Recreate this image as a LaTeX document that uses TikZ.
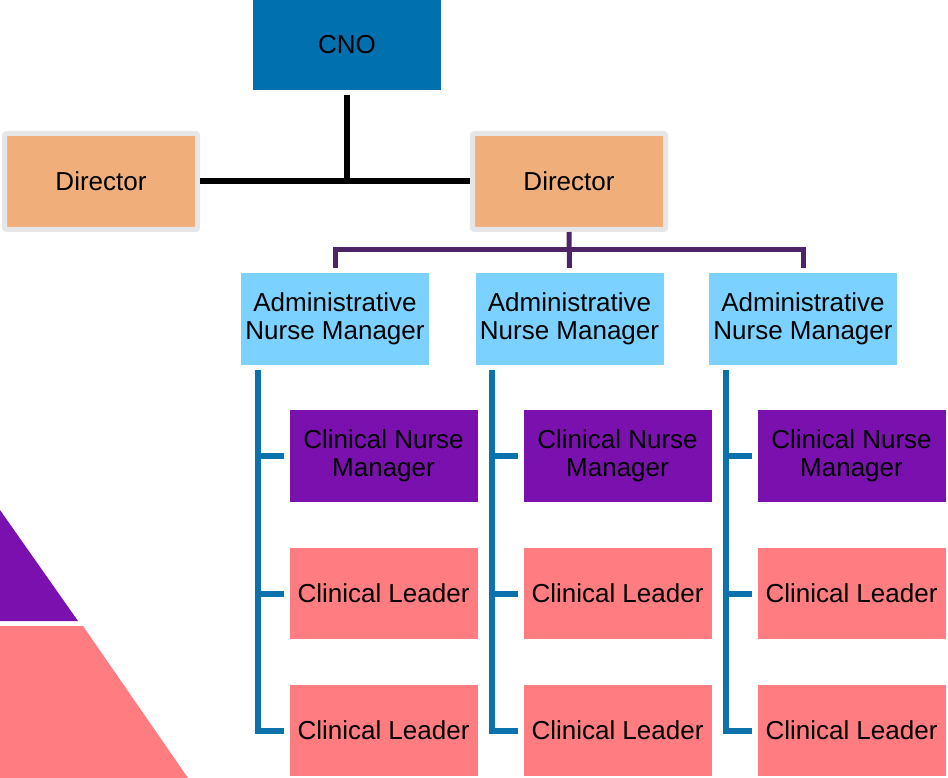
\documentclass[tikz,border=0pt]{standalone}
\usepackage{fontspec}
\setmainfont{Liberation Sans}

\definecolor{cnoblue}{RGB}{0,112,175}
\definecolor{dirpeach}{RGB}{240,174,122}
\definecolor{dirgray}{RGB}{230,230,230}
\definecolor{amnblue}{RGB}{123,209,255}
\definecolor{cnmpurple}{RGB}{122,17,174}
\definecolor{clsalmon}{RGB}{255,124,128}
\definecolor{linkpurple}{RGB}{78,36,104}
\definecolor{linkblue}{RGB}{12,114,174}

\begin{document}
\begin{tikzpicture}[x=1pt, y=-1pt,
		box/.style={rectangle, inner sep=0pt, minimum width=188pt, minimum height=92pt, align=center, text=black, font=\fontsize{26}{28}\selectfont},
		cnobox/.style={box, fill=cnoblue, minimum height=90pt},
		dirbox/.style={box, fill=dirpeach, draw=dirgray, line width=5pt, rounded corners=2pt, minimum width=193pt, minimum height=96pt},
		amnbox/.style={box, fill=amnblue},
		cnmbox/.style={box, fill=cnmpurple},
		clbox/.style={box, fill=clsalmon, minimum height=91pt},
		toplink/.style={line width=6pt, black},
		dirlink/.style={line width=5pt, linkpurple},
		amnlink/.style={line width=6pt, linkblue},
	]

	\useasboundingbox (0,0) rectangle (948,778);

	% Pyramid corner
	\fill[cnmpurple] (0,510) -- (78,621) -- (0,621) -- cycle;
	\fill[clsalmon]  (0,626) -- (83,626) -- (188,778) -- (0,778) -- cycle;

	% Top
	\node[cnobox] (cno)  at (347,45)    {CNO};
	\node[dirbox] (dirL) at (101,181.5) {Director};
	\node[dirbox] (dirR) at (569,181.5) {Director};

	% Administrative nurse managers
	\node[amnbox] (amnA) at (335,319)   {Administrative\\Nurse Manager};
	\node[amnbox] (amnB) at (569.5,319) {Administrative\\Nurse Manager};
	\node[amnbox] (amnC) at (803,319)   {Administrative\\Nurse Manager};

	% Clinical staff
	\node[cnmbox] (cnmA) at (383.5,456)   {Clinical Nurse\\Manager};
	\node[clbox]  (clA1) at (383.5,593.5) {Clinical Leader};
	\node[clbox]  (clA2) at (383.5,730.5) {Clinical Leader};

	\node[cnmbox] (cnmB) at (617.5,456)   {Clinical Nurse\\Manager};
	\node[clbox]  (clB1) at (617.5,593.5) {Clinical Leader};
	\node[clbox]  (clB2) at (617.5,730.5) {Clinical Leader};

	\node[cnmbox] (cnmC) at (851.5,456)   {Clinical Nurse\\Manager};
	\node[clbox]  (clC1) at (851.5,593.5) {Clinical Leader};
	\node[clbox]  (clC2) at (851.5,730.5) {Clinical Leader};

	% CNO to directors
	\draw[toplink] ([yshift=-5pt]cno.south) -- (cno.south |- dirL.east);
	\draw[toplink] (dirL) -- (dirR);

	% Director to managers
	\coordinate (bus) at ([yshift=-18pt]dirR.south);
	\draw[dirlink] ([yshift=5pt]amnA.north) |- (bus) -| ([yshift=5pt]amnC.north);
	\draw[dirlink] (dirR.south) -- ([yshift=5pt]amnB.north);

	% Managers to clinical staff
	\coordinate (spineA) at ([xshift=17pt,yshift=-5pt]amnA.south west);
	\coordinate (spineB) at ([xshift=17pt,yshift=-5pt]amnB.south west);
	\coordinate (spineC) at ([xshift=17pt,yshift=-5pt]amnC.south west);

	\draw[amnlink] (spineA) |- ([xshift=-5pt]clA2.west);
	\draw[amnlink] (spineA |- cnmA.west) -- ([xshift=-5pt]cnmA.west);
	\draw[amnlink] (spineA |- clA1.west) -- ([xshift=-5pt]clA1.west);

	\draw[amnlink] (spineB) |- ([xshift=-5pt]clB2.west);
	\draw[amnlink] (spineB |- cnmB.west) -- ([xshift=-5pt]cnmB.west);
	\draw[amnlink] (spineB |- clB1.west) -- ([xshift=-5pt]clB1.west);

	\draw[amnlink] (spineC) |- ([xshift=-5pt]clC2.west);
	\draw[amnlink] (spineC |- cnmC.west) -- ([xshift=-5pt]cnmC.west);
	\draw[amnlink] (spineC |- clC1.west) -- ([xshift=-5pt]clC1.west);

\end{tikzpicture}
\end{document}
